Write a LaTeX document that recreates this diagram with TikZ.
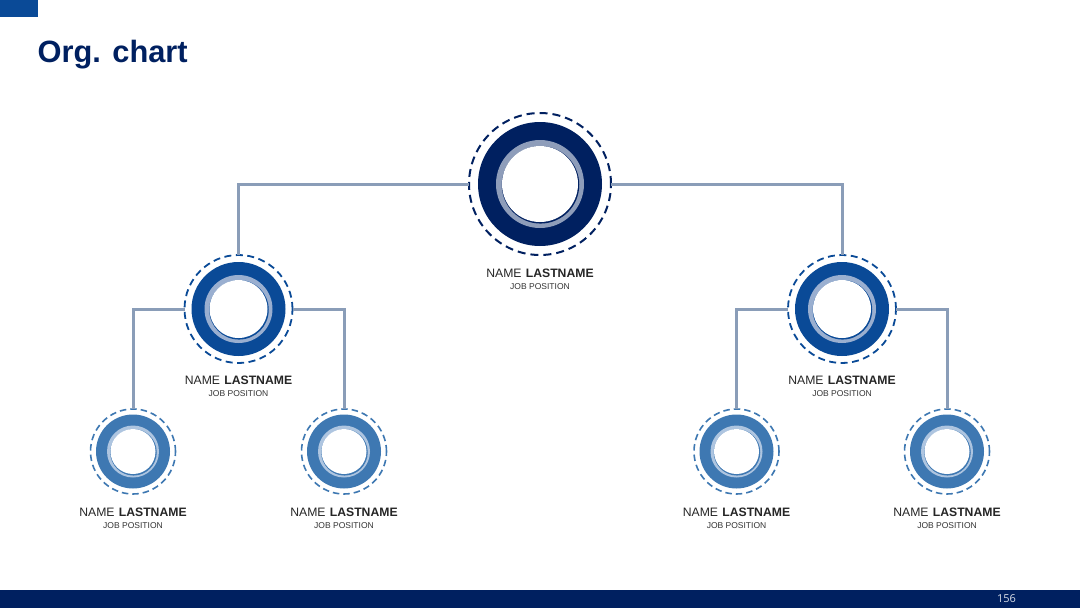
\documentclass[tikz,border=0pt]{standalone}
\usepackage{fontspec}
\setmainfont{Liberation Sans}
\newfontfamily\pagefont{Open Sans}
\definecolor{navy}{HTML}{002060}
\definecolor{midblue}{HTML}{0A4A97}
\definecolor{leafblue}{HTML}{3E78B2}
\definecolor{linkgrey}{HTML}{8A9DB8}
\definecolor{ringgrey}{HTML}{8E9DBA}
\definecolor{ringmid}{HTML}{9AAFD0}
\definecolor{ringleaf}{HTML}{AEC5E0}
\tikzset{
  disc/.style={circle,inner sep=0pt,outer sep=0pt,minimum size=#1},
  link/.style={draw=linkgrey,line width=3pt,line join=miter},
  namelabel/.style={inner sep=0pt,font=\fontsize{12.2}{14}\selectfont,text=black!85},
  joblabel/.style={inner sep=0pt,font=\fontsize{8.5}{10}\selectfont,text=black!80},
}
% #1 name, #2 position, #3 main colour, #4 ring colour,
% #5 dashed, #6 outer, #7 ring outer, #8 white (diameters), #9 line width and dash pattern
\newcommand{\orgunit}[9]{%
  \node[disc=#5,draw=#3,#9,fill=white] (#1) at (#2) {};
  \node[disc=#6,fill=#3] (#1o) at (#2) {};
  \node[disc=#7,fill=#4] (#1r) at (#2) {};
  \node[disc=#8+1.5pt,fill=#3,xshift=0.5pt,yshift=-0.8pt] (#1d) at (#2) {};
  \node[disc=#8,fill=white] (#1w) at (#2) {};
}
\newcommand{\orglabels}[3]{%
  \node[namelabel] (#1n) at (#2,#3) {NAME\hspace{0.35em}\textbf{LASTNAME}};
  \node[joblabel] (#1j) at (#2,#3+13.5) {JOB POSITION};
}
\begin{document}
\begin{tikzpicture}[x=1pt,y=-1pt]
\useasboundingbox (0,0) rectangle (1080,608);
\fill[white] (0,0) rectangle (1080,608);
\fill[midblue] (0,0) rectangle (38,16.5);
\fill[navy] (0,589.5) rectangle (1080,608);
\node[inner sep=0pt,anchor=base west,text=navy,font=\fontsize{30.8}{34}\selectfont\bfseries] (title) at (37.5,62) {Org. chart};
\node[inner sep=0pt,text=white!85!navy,font=\pagefont\fontsize{11}{13}\selectfont] (page) at (1006.5,598.5) {156};

\orgunit{top}{540,184}{navy}{ringgrey}{142pt}{124pt}{88pt}{76pt}{line width=2pt,dash pattern=on 8pt off 5pt}
\orgunit{ml}{238.5,309}{midblue}{ringmid}{108pt}{94pt}{68pt}{58pt}{line width=1.8pt,dash pattern=on 7pt off 4.5pt}
\orgunit{mr}{842,309}{midblue}{ringmid}{108pt}{94pt}{68pt}{58pt}{line width=1.8pt,dash pattern=on 7pt off 4.5pt}
\orgunit{la}{133,451.5}{leafblue}{ringleaf}{85pt}{74pt}{52pt}{45pt}{line width=1.6pt,dash pattern=on 6.5pt off 4pt}
\orgunit{lb}{344,451.5}{leafblue}{ringleaf}{85pt}{74pt}{52pt}{45pt}{line width=1.6pt,dash pattern=on 6.5pt off 4pt}
\orgunit{lc}{736.5,451.5}{leafblue}{ringleaf}{85pt}{74pt}{52pt}{45pt}{line width=1.6pt,dash pattern=on 6.5pt off 4pt}
\orgunit{ld}{947,451.5}{leafblue}{ringleaf}{85pt}{74pt}{52pt}{45pt}{line width=1.6pt,dash pattern=on 6.5pt off 4pt}

\draw[link] (top.west) -| (ml.north);
\draw[link] (top.east) -| (mr.north);
\draw[link] (ml.west) -| (la.north);
\draw[link] (ml.east) -| (lb.north);
\draw[link] (mr.west) -| (lc.north);
\draw[link] (mr.east) -| (ld.north);

\orglabels{top}{540}{273.5}
\orglabels{ml}{238.5}{380}
\orglabels{mr}{842}{380}
\orglabels{la}{133}{512}
\orglabels{lb}{344}{512}
\orglabels{lc}{736.5}{512}
\orglabels{ld}{947}{512}
\end{tikzpicture}
\end{document}
